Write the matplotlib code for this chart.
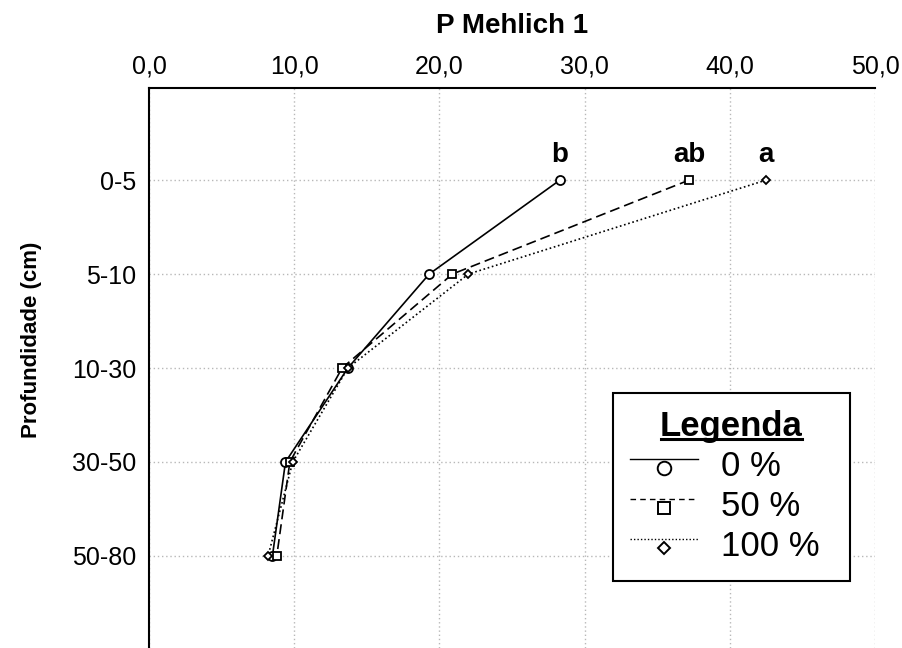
import matplotlib
matplotlib.use("Agg")
import matplotlib.pyplot as plt
from matplotlib.lines import Line2D
from matplotlib.legend_handler import HandlerBase

plt.rcParams['font.family'] = ['Liberation Sans', 'DejaVu Sans']

depths = ["0-5", "5-10", "10-30", "30-50", "50-80"]
p_0 = [28.3, 19.3, 13.7, 9.4, 8.5]
p_50 = [37.2, 20.9, 13.3, 9.7, 8.8]
p_100 = [42.5, 22.0, 13.7, 9.9, 8.2]
letters = ["b", "ab", "a"]
series_labels = ["0 %", "50 %", "100 %"]
x_ticks = [0, 10, 20, 30, 40, 50]

styles = [dict(ls='-', marker='o', ms=6.5, legls='-'),
          dict(ls=(0, (6, 3)), marker='s', ms=6, legls=(0, (4, 3))),
          dict(ls=(0, (1, 1.6)), marker='D', ms=4.2, legls=(0, (1, 1.5)))]


class LineAboveMarker(HandlerBase):
    def __init__(self, legls, **kw):
        super().__init__(**kw)
        self.legls = legls

    def create_artists(self, legend, orig_handle, xdescent, ydescent,
                       width, height, fontsize, trans):
        yc = (height - ydescent) / 2
        line = Line2D([-xdescent, -xdescent + width], [yc + 0.2 * height] * 2,
                      color='black', lw=1.0, ls=self.legls)
        mk = Line2D([-xdescent + width / 2], [yc - 0.17 * height],
                    ls='none', marker=orig_handle.get_marker(),
                    ms=orig_handle.get_markersize() * 1.5, mfc='white',
                    mec='black', mew=1.4)
        line.set_transform(trans)
        mk.set_transform(trans)
        return [line, mk]


fig = plt.figure(figsize=(9.02, 6.48), dpi=100)
ax = fig.add_axes([149/902, 0, (875-149)/902, (648-88)/648])

ypos = list(range(len(depths)))
handles = []
hmap = {}
for vals, st, lab in zip([p_0, p_50, p_100], styles, series_labels):
    h, = ax.plot(vals, ypos, color='black', lw=1.2, ls=st['ls'], marker=st['marker'],
                 ms=st['ms'], mfc='white', mec='black', mew=1.3, label=lab, zorder=3)
    handles.append(h)
    hmap[h] = LineAboveMarker(st['legls'])

for vals, let in zip([p_0, p_50, p_100], letters):
    ax.annotate(let, (vals[0], 0), xytext=(0, 9), textcoords='offset points',
                ha='center', va='bottom', fontsize=20, fontweight='bold')

ax.set_xlim(0, 50)
ax.set_ylim(4.98, -0.98)
ax.set_yticks(ypos)
ax.set_yticklabels(depths, fontsize=18)
ax.set_xticks(x_ticks)
ax.set_xticklabels([f"{v:.1f}".replace('.', ',') for v in x_ticks], fontsize=18)
ax.xaxis.tick_top()
ax.xaxis.set_label_position('top')
ax.tick_params(length=0, pad=9)
ax.tick_params(axis='x', pad=7)
ax.set_xlabel("P Mehlich 1", fontsize=20, fontweight='bold', labelpad=15)
ax.set_ylabel("Profundidade (cm)", fontsize=16, fontweight='bold')
ax.yaxis.set_label_coords(-0.148, 0.55)
ax.grid(True, ls=(0, (1, 2)), color='#b8b8b8', lw=1)
ax.set_axisbelow(True)
for s in ['right', 'bottom']:
    ax.spines[s].set_visible(False)
for s in ['left', 'top']:
    ax.spines[s].set_linewidth(1.5)

leg = ax.legend(handles=handles, loc='upper left',
                bbox_to_anchor=(613/902, (648-580)/648, 237/902, 187/648),
                bbox_transform=fig.transFigure, mode='expand',
                title="Legenda", fontsize=25, title_fontproperties={'size': 25, 'weight': 'bold'},
                handler_map=hmap,
                handlelength=1.95, handletextpad=0.65, labelspacing=0.2,
                borderpad=0.5, borderaxespad=0, fancybox=False, framealpha=1,
                edgecolor='black')
leg.get_frame().set_linewidth(1.5)
leg._legend_box.align = "center"

fig.canvas.draw()
tb = leg.get_title().get_window_extent()
inv = fig.transFigure.inverted()
(x0, y0), (x1, y1) = inv.transform([(tb.x0 + 1, tb.y0 + 4), (tb.x1 - 1, tb.y0 + 4)])
fig.add_artist(Line2D([x0, x1], [y0, y1], transform=fig.transFigure, color='black', lw=2.2))

fig.savefig("out.png", dpi=100)
